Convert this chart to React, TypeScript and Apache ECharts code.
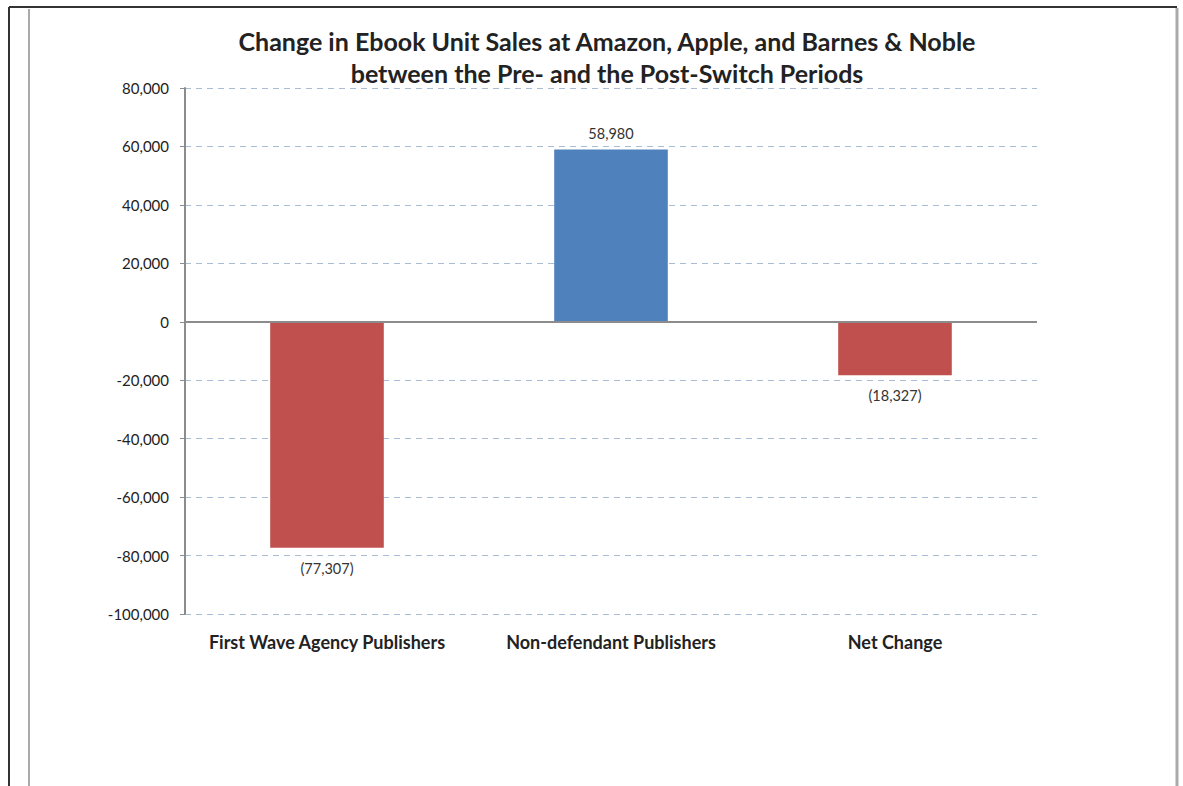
import React, { useEffect, useRef } from "react";
import * as echarts from "echarts";

const categories = ["First Wave Agency Publishers", "Non-defendant Publishers", "Net Change"];
const values = [-77307, 58980, -18327];
const yTicks = { min: -100000, max: 80000, interval: 20000 };
const titleLines = [
  "Change in Ebook Unit Sales at Amazon, Apple, and Barnes & Noble",
  "between the Pre- and the Post-Switch Periods",
];

const RED = "#c0504d";
const BLUE = "#4f81bd";
const FONT = "Lato, 'Open Sans', sans-serif";

function fmtNum(v: number): string {
  const s = Math.abs(v).toLocaleString("en-US");
  return v < 0 ? `(${s})` : s;
}

export default function App() {
  const ref = useRef<HTMLDivElement>(null);
  useEffect(() => {
    if (!ref.current) return;
    const chart = echarts.init(ref.current, undefined, { renderer: "svg" });
    chart.setOption({
      animation: false,
      backgroundColor: "#ffffff",
      title: {
        text: titleLines.join("\n"),
        left: 602,
        textAlign: "center",
        top: 20,
        textStyle: { fontFamily: FONT, fontWeight: "bold", fontSize: 25, color: "#222222", lineHeight: 32 },
      },
      grid: { left: 185, right: 146, top: 88, bottom: 172 },
      xAxis: {
        type: "category",
        data: categories,
        axisLine: { show: false, onZero: false },
        axisTick: { show: false },
        axisLabel: { interval: 0, margin: 19, fontFamily: FONT, fontWeight: "bold", fontSize: 18, color: "#222222" },
        splitLine: { show: false },
      },
      yAxis: {
        type: "value",
        min: yTicks.min,
        max: yTicks.max,
        interval: yTicks.interval,
        axisLine: { show: true, lineStyle: { color: "#8c8c8c", width: 2 } },
        axisTick: { show: true, length: 5, lineStyle: { color: "#8c8c8c", width: 1 } },
        axisLabel: {
          margin: 16,
          fontFamily: FONT,
          fontSize: 15,
          color: "#222222",
          formatter: (v: number) => v.toLocaleString("en-US"),
        },
        splitLine: { show: true, lineStyle: { color: "#a9bcd6", type: [6, 5], width: 1 } },
      },
      series: [
        {
          type: "bar",
          barWidth: "40%",
          data: values.map((v) => ({
            value: v,
            itemStyle: { color: v < 0 ? RED : BLUE },
            label: {
              show: true,
              position: v < 0 ? "bottom" : "top",
              distance: v < 0 ? 13 : 8,
              formatter: () => fmtNum(v),
              fontFamily: FONT,
              fontSize: 14.5,
              color: "#333333",
            },
          })),
          markLine: {
            silent: true,
            symbol: "none",
            label: { show: false },
            lineStyle: { color: "#8c8c8c", type: "solid", width: 2 },
            data: [{ yAxis: 0 }],
          },
        },
      ],
      graphic: [
        { type: "line", shape: { x1: 9, y1: 7, x2: 1177, y2: 7 }, style: { stroke: "#333333", lineWidth: 2 } },
        { type: "line", shape: { x1: 9, y1: 7, x2: 9, y2: 786 }, style: { stroke: "#333333", lineWidth: 2 } },
        { type: "line", shape: { x1: 29, y1: 9, x2: 29, y2: 786 }, style: { stroke: "#aaaaaa", lineWidth: 2 } },
        { type: "line", shape: { x1: 1177, y1: 8, x2: 1177, y2: 786 }, style: { stroke: "#aaaaaa", lineWidth: 3 } },
      ],
    });
    return () => chart.dispose();
  }, []);
  return <div ref={ref} style={{ position: "fixed", left: 0, top: 0, width: 1183, height: 786 }} />;
}
